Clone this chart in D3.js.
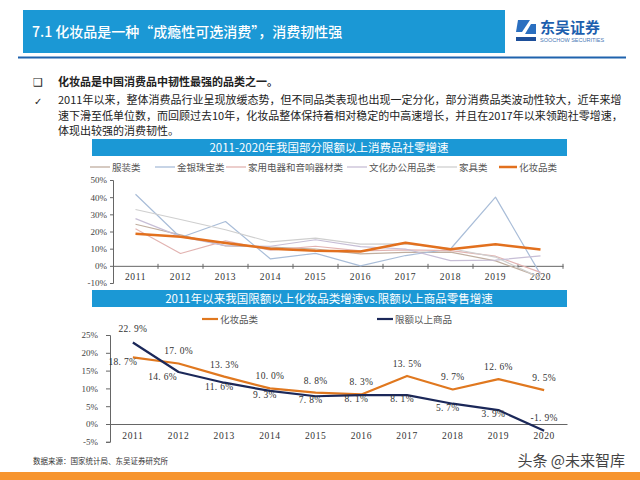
<!DOCTYPE html>
<html><head><meta charset="utf-8">
<script src="https://cdn.jsdelivr.net/npm/d3@7"></script>
<style>body{margin:0;background:#fff}svg{display:block}</style>
</head><body><svg id="c" width="640" height="480"></svg>
<script>
// ---------- data ----------
const years = ["2011","2012","2013","2014","2015","2016","2017","2018","2019","2020"];
const names1 = ["服装类","金银珠宝类","家用电器和音响器材类","文化办公用品类","家具类","化妆品类"];
const clothing   = [24.2, 18.0, 11.6, 10.9, 9.8, 7.0, 7.8, 8.0, 2.9, -6.6];
const jewelry    = [41.7, 16.5, 25.8, 4.0, 7.3, 0.0, 6.0, 9.8, 40.0, -5.0];
const appliances = [21.6, 7.2, 14.5, 9.1, 11.4, 8.7, 9.3, 8.9, 5.6, -3.8];
const office     = [27.5, 17.0, 11.8, 11.4, 15.2, 11.2, 9.8, 3.0, 3.3, 5.8];
const furniture  = [32.8, 27.0, 21.0, 13.9, 16.1, 12.7, 12.8, 10.1, 5.1, -7.0];
const cosmetics  = [18.7, 17.0, 13.3, 10.0, 8.8, 8.3, 13.5, 9.7, 12.6, 9.5];
const yTicks1 = [-10, 0, 10, 20, 30, 40, 50];

const names2 = ["化妆品类","限额以上商品"];
const retailTotal = [22.9, 14.6, 11.6, 9.3, 7.8, 8.1, 8.1, 5.7, 3.9, -1.9];
const yTicks2 = [-5, 0, 5, 10, 15, 20, 25];

// ---------- drawing ----------
const svg = d3.select("#c");
const CJK = "'Noto Sans CJK SC', 'Noto Sans', sans-serif";
const NUM = "'Liberation Serif', serif";
const BLUE = "#1b98d5";

svg.append("rect").attr("width",640).attr("height",480).attr("fill","#fff");

// header
svg.append("rect").attr("x",23).attr("y",10).attr("width",482).attr("height",43).attr("fill",BLUE);
svg.append("text").attr("x",32).attr("y",37).attr("fill","#fff")
  .attr("font-family",CJK).attr("font-size",14).attr("font-weight",500)
  .text("7.1 化妆品是一种“成瘾性可选消费”，消费韧性强");
svg.append("line").attr("x1",18).attr("x2",626).attr("y1",57.5).attr("y2",57.5)
  .attr("stroke","#1f63ad").attr("stroke-width",2);

// logo
const logo = svg.append("g").attr("transform","translate(516,20)");
logo.append("path").attr("d","M2,0 L14,0 L6,12 L0,12 Z").attr("fill","#2a6fc0");
logo.append("path").attr("d","M9,14 L15,4 L20,4 L20,14 Z").attr("fill","#2a6fc0");
logo.append("rect").attr("x",0).attr("y",17).attr("width",20).attr("height",4).attr("fill","#1d4f9a");
logo.append("text").attr("x",24).attr("y",13).attr("font-family",CJK).attr("font-size",15)
  .attr("font-weight",700).attr("fill","#1d5fae").text("东吴证券");
logo.append("text").attr("x",24).attr("y",22).attr("font-family","'Liberation Sans', sans-serif")
  .attr("font-size",5.5).attr("fill","#4a78b5").text("SOOCHOW SECURITIES");

// bullets
svg.append("text").attr("x",33).attr("y",86).attr("font-family","'DejaVu Sans'").attr("font-size",11)
  .attr("fill","#222").text("❑");
svg.append("text").attr("x",58).attr("y",86).attr("font-family",CJK).attr("font-size",11)
  .attr("font-weight",700).attr("fill","#222").text("化妆品是中国消费品中韧性最强的品类之一。");
svg.append("text").attr("x",34).attr("y",105).attr("font-family","'DejaVu Sans'").attr("font-size",10)
  .attr("fill","#222").text("✓");
const para = [
  "2011年以来，整体消费品行业呈现放缓态势，但不同品类表现也出现一定分化，部分消费品类波动性较大，近年来增",
  "速下滑至低单位数，而回顾过去10年，化妆品整体保持着相对稳定的中高速增长，并且在2017年以来领跑社零增速，",
  "体现出较强的消费韧性。"
];
para.forEach((t,i)=>{
  svg.append("text").attr("x",58).attr("y",104+i*15.5).attr("font-family",CJK).attr("font-size",11)
    .attr("fill","#222").text(t);
});

// ---------- chart 1 ----------
svg.append("rect").attr("x",92).attr("y",139).attr("width",475).attr("height",17).attr("fill",BLUE);
svg.append("text").attr("x",329).attr("y",151.5).attr("text-anchor","middle").attr("fill","#fff")
  .attr("font-family",CJK).attr("font-size",11.5).text("2011-2020年我国部分限额以上消费品社零增速");

const colors1 = ["#c0ae9f","#a9bdd8","#e2b3b1","#c7bed6","#cfcfcf","#e2701e"];
const data1 = [clothing, jewelry, appliances, office, furniture, cosmetics];

// legend 1
const leg1x = [90, 155, 226, 347, 437, 499];
names1.forEach((n,i)=>{
  const g = svg.append("g").attr("transform",`translate(${leg1x[i]},167)`);
  g.append("line").attr("x1",0).attr("x2",i===5?18:20).attr("y1",0).attr("y2",0)
    .attr("stroke",colors1[i]).attr("stroke-width",i===5?2.5:1.3);
  g.append("text").attr("x",i===5?20:22).attr("y",3.5).attr("font-family",CJK).attr("font-size",9.5)
    .attr("fill","#555").text(n);
});

const x1 = d3.scaleBand().domain(years).range([113,563]);
const y1 = d3.scaleLinear().domain([-10,50]).range([283,180]);

const ax1 = svg.append("g").attr("transform","translate(113,0)")
  .call(d3.axisLeft(y1).tickValues(yTicks1).tickFormat(d=>d+"%").tickSize(3).tickPadding(3));
ax1.selectAll("text").attr("font-family",NUM).attr("font-size",9).attr("fill","#444");
ax1.selectAll("line,path").attr("stroke","#666");

const xa1 = svg.append("g").attr("transform",`translate(0,${y1(0)})`)
  .call(d3.axisBottom(x1).tickSize(0).tickPadding(7));
xa1.select("path").attr("stroke","#666");
xa1.selectAll("text").attr("font-family",NUM).attr("font-size",9.5).attr("fill","#333").attr("letter-spacing",0.6);
svg.append("g").selectAll("line").data(years).join("line")
  .attr("x1",d=>x1(d)+x1.bandwidth()).attr("x2",d=>x1(d)+x1.bandwidth())
  .attr("y1",y1(0)-2).attr("y2",y1(0)+3).attr("stroke","#666");

const line1 = d3.line().x((d,i)=>x1(years[i])+x1.bandwidth()/2).y(d=>y1(d));
data1.forEach((s,i)=>{
  svg.append("path").datum(s).attr("d",line1).attr("fill","none")
    .attr("stroke",colors1[i]).attr("stroke-width",i===5?2.5:1.2).attr("stroke-linejoin","round");
});

// ---------- chart 2 ----------
svg.append("rect").attr("x",92).attr("y",290).attr("width",475).attr("height",17).attr("fill",BLUE);
svg.append("text").attr("x",329).attr("y",302.5).attr("text-anchor","middle").attr("fill","#fff")
  .attr("font-family",CJK).attr("font-size",11.5).text("2011年以来我国限额以上化妆品类增速vs.限额以上商品零售增速");

const colors2 = ["#e0781f","#1b2859"];
const leg2x = [202, 377];
names2.forEach((n,i)=>{
  const g = svg.append("g").attr("transform",`translate(${leg2x[i]},319)`);
  g.append("line").attr("x1",0).attr("x2",16).attr("stroke",colors2[i]).attr("stroke-width",2.2);
  g.append("text").attr("x",18).attr("y",3.5).attr("font-family",CJK).attr("font-size",9.5)
    .attr("fill","#555").text(n);
});

const x2 = d3.scaleBand().domain(years).range([110,567]);
const y2 = d3.scaleLinear().domain([-5,25]).range([441.8,335]);

const ax2 = svg.append("g").attr("transform","translate(110,0)")
  .call(d3.axisLeft(y2).tickValues(yTicks2).tickFormat(d=>d+"%").tickSize(4).tickPadding(8));
ax2.selectAll("text").attr("font-family",NUM).attr("font-size",9).attr("fill","#444");
ax2.selectAll("line,path").attr("stroke","#666");

const xa2 = svg.append("g").attr("transform",`translate(0,${y2(0)})`)
  .call(d3.axisBottom(x2).tickSize(0).tickPadding(8));
xa2.select("path").attr("stroke","#666");
xa2.selectAll("text").attr("font-family",NUM).attr("font-size",9.5).attr("fill","#333").attr("letter-spacing",0.6);

const cx2 = i => x2(years[i]) + x2.bandwidth()/2;
const line2 = d3.line().x((d,i)=>cx2(i)).y(d=>y2(d));
[cosmetics, retailTotal].forEach((s,k)=>{
  svg.append("path").datum(s).attr("d",line2).attr("fill","none")
    .attr("stroke",colors2[k]).attr("stroke-width",2.2).attr("stroke-linejoin","round");
});

// data labels
const fmt = v => (v<0?"-":"") + Math.abs(v).toFixed(1).replace(".",". ") + "%";
const lab = (v,i,dx,dy) => svg.append("text").attr("x",cx2(i)+dx).attr("y",y2(v)+dy)
  .attr("text-anchor","middle").attr("font-family",NUM)
  .attr("font-size",9.5).attr("fill","#333").attr("letter-spacing",0.3).text(fmt(v));
cosmetics.forEach((v,i)=>{
  if (i===0) lab(v,i,-10,8); else lab(v,i,0,-9);
});
retailTotal.forEach((v,i)=>{
  if (i===0) lab(v,i,0,-10);
  else if (i===9) lab(v,i,0,-10);
  else if (i===1) lab(v,i,-16,8);
  else lab(v,i,-5,7);
});

// footer
svg.append("text").attr("x",33).attr("y",464).attr("font-family",CJK).attr("font-size",7.5)
  .attr("fill","#333").text("数据来源：国家统计局、东吴证券研究所");
svg.append("text").attr("x",625).attr("y",466).attr("text-anchor","end").attr("font-family",CJK)
  .attr("font-size",15).attr("fill","#444").text("头条 @未来智库");
svg.append("rect").attr("x",0).attr("y",472).attr("width",640).attr("height",8).attr("fill","#f7952f");
</script>
</body></html>
